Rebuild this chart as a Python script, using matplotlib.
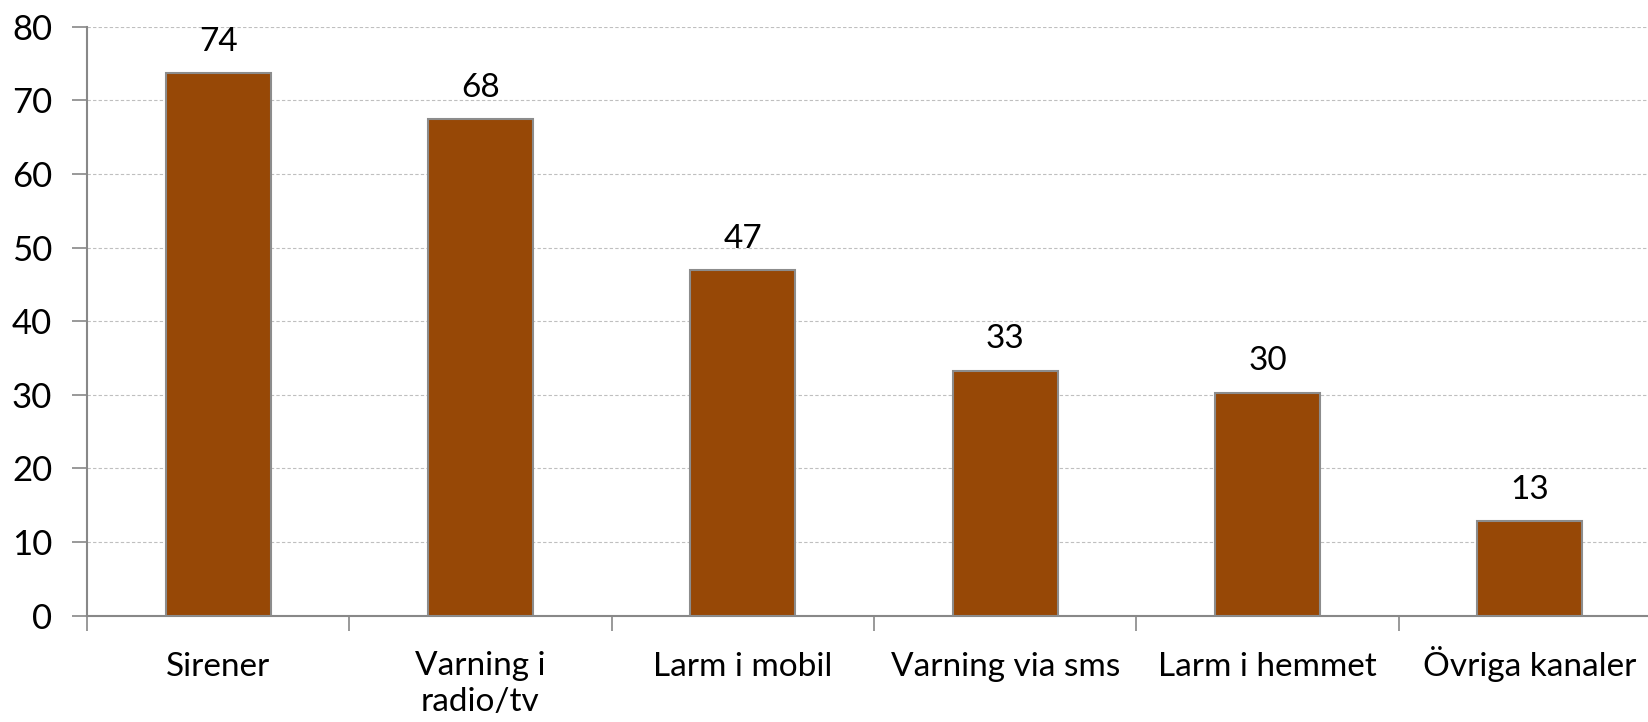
import matplotlib
matplotlib.use("Agg")
import matplotlib.pyplot as plt
import matplotlib.transforms as mtransforms
import numpy as np

categories = ["Sirener", "Varning i\nradio/tv", "Larm i mobil", "Varning via sms", "Larm i hemmet", "Övriga kanaler"]
values = [73.7, 67.5, 46.9, 33.3, 30.3, 12.9]
yticks = [0, 10, 20, 30, 40, 50, 60, 70, 80]

plt.rcParams['font.family'] = ['Lato', 'DejaVu Sans']

W, H = 1648, 722
fig = plt.figure(figsize=(W/100, H/100), dpi=100)
left, right, top, bottom = 87, 1661, 26.7, 615.7
ax = fig.add_axes([left/W, 1-bottom/H, (right-left)/W, (bottom-top)/H])

x = np.arange(len(categories))
ax.bar(x, values, width=0.4, color="#974806", edgecolor="#8c8c8c", linewidth=1.5, zorder=3)
for xi, v in zip(x, values):
    ax.text(xi, v + 2.2, f"{v:.0f}", ha="center", va="bottom", fontsize=24, color="black")

ax.set_xlim(-0.5, len(categories) - 0.5)
ax.set_ylim(0, 80)
ax.set_yticks(yticks)
ax.set_yticklabels([str(t) for t in yticks], fontsize=25)
ax.yaxis.grid(True, color="#bfbfbf", linestyle=(0, (3, 2)), linewidth=0.8, zorder=0)
ax.tick_params(axis="y", length=11, width=1.2, color="#888888", pad=14)

# category ticks at boundaries; labels drawn at centres with a common first-line baseline
ax.set_xticks(np.arange(len(categories) + 1) - 0.5)
ax.set_xticklabels([])
ax.tick_params(axis="x", length=11, width=1.2, color="#888888")
base = ax.get_xaxis_transform()
for xi, lab in zip(x, categories):
    nlines = lab.count("\n")
    tr = mtransforms.offset_copy(base, fig=fig, y=-(60 + 35 * nlines), units="dots")
    ax.text(xi, 0, lab, transform=tr, ha="center", va="baseline", fontsize=24,
            linespacing=1.22, clip_on=False)

for s in ["top", "right"]:
    ax.spines[s].set_visible(False)
for s in ["left", "bottom"]:
    ax.spines[s].set_color("#888888")
    ax.spines[s].set_linewidth(1.5)

fig.savefig("out.png", dpi=100)
